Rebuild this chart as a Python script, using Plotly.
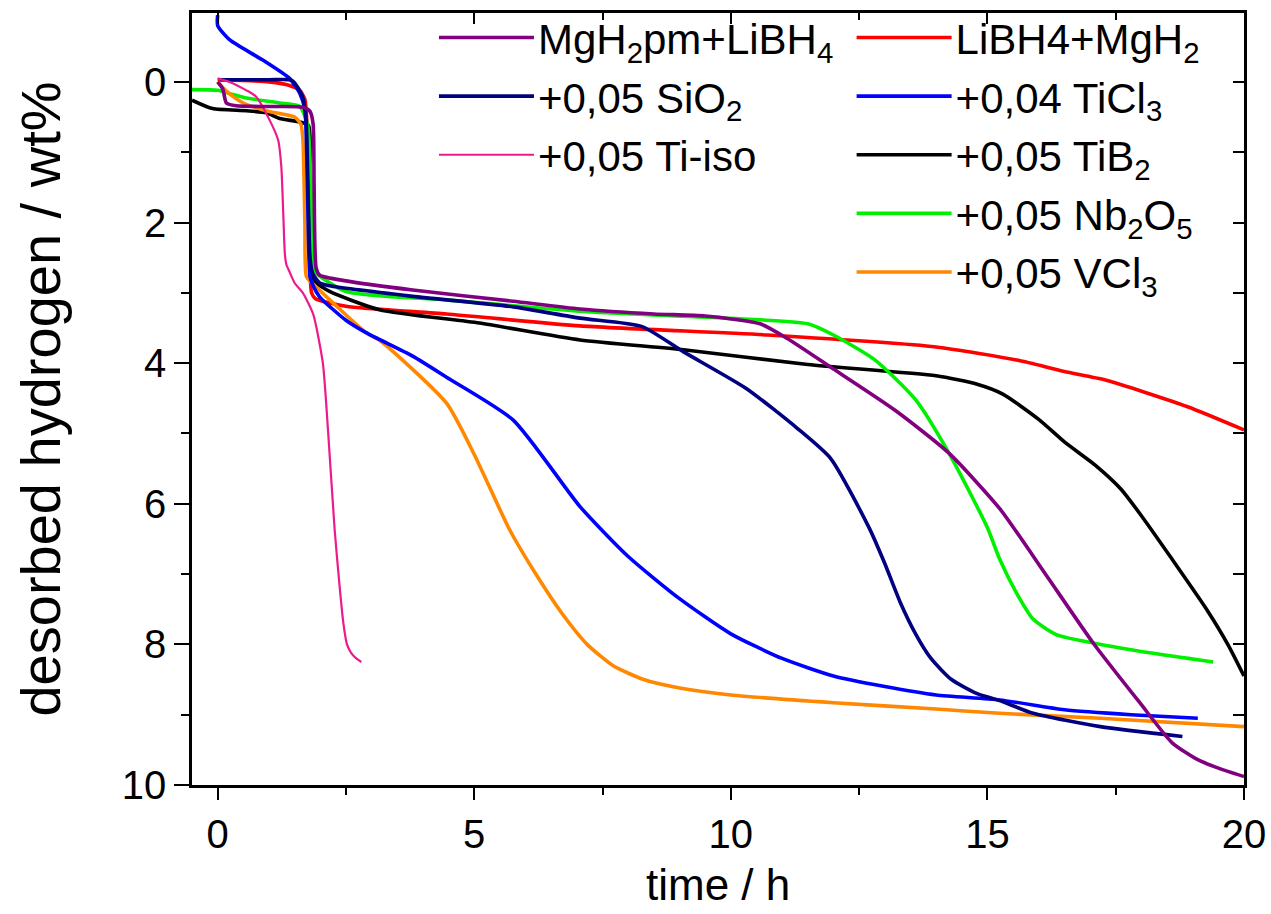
import plotly.graph_objects as go

# ---------------- data (time / h, desorbed hydrogen / wt%) ----------------
purple_x = [0.0, 0.1, 0.17, 0.36, 1.0, 1.66, 1.8, 1.86, 1.88, 1.92, 1.99, 2.5, 3.8, 5.76, 7.06, 8.5, 9.5,
            10.57, 11.1, 11.95, 13.2, 14.25, 15.24, 16.15, 17.06, 17.97, 18.6, 19.1, 19.5, 20.0]
purple_y = [0.0, 0.1, 0.3, 0.34, 0.35, 0.36, 0.42, 0.6, 1.5, 2.65, 2.75, 2.83, 2.96, 3.12, 3.23, 3.3, 3.33,
            3.44, 3.65, 4.06, 4.67, 5.28, 6.07, 7.02, 7.98, 8.83, 9.4, 9.64, 9.76, 9.88]

red_x = [0.0, 0.5, 1.0, 1.4, 1.6, 1.7, 1.74, 1.78, 1.83, 1.9, 2.5, 4.46, 7.06, 10.72, 14.0, 15.6, 16.5,
         17.3, 18.9, 20.0]
red_y = [-0.03, -0.02, 0.0, 0.05, 0.12, 0.25, 0.6, 2.0, 3.0, 3.08, 3.19, 3.3, 3.47, 3.6, 3.77, 3.96, 4.12,
         4.24, 4.62, 4.95]

navy_x = [0.05, 0.3, 1.0, 1.45, 1.65, 1.72, 1.76, 1.8, 1.85, 1.99, 2.18, 3.8, 5.76, 7.06, 8.27, 9.08,
          10.3, 11.3, 11.95, 12.7, 13.0, 13.3, 13.6, 13.9, 14.3, 14.8, 15.24, 15.89, 17.2, 18.8]
navy_y = [-0.03, -0.03, -0.03, -0.02, 0.2, 0.5, 1.5, 2.5, 2.72, 2.86, 2.9, 3.05, 3.2, 3.36, 3.48, 3.84,
          4.36, 4.93, 5.36, 6.35, 6.85, 7.4, 7.85, 8.2, 8.5, 8.7, 8.8, 8.98, 9.17, 9.31]

blue_x = [0.0, 0.0, 0.23, 0.88, 1.4, 1.6, 1.7, 1.75, 1.8, 1.86, 1.99, 2.5, 2.9, 3.8, 4.46, 5.76, 7.06,
          8.0, 9.0, 10.0, 11.0, 12.0, 13.0, 14.0, 15.24, 16.5, 17.8, 19.1]
blue_y = [-0.95, -0.8, -0.6, -0.31, -0.05, 0.16, 0.4, 1.5, 2.77, 2.9, 3.06, 3.39, 3.57, 3.9, 4.2, 4.81,
          6.04, 6.75, 7.35, 7.85, 8.2, 8.45, 8.6, 8.72, 8.79, 8.93, 9.0, 9.05]

pink_x = [0.0, 0.23, 0.56, 0.75, 1.01, 1.18, 1.24, 1.28, 1.31, 1.34, 1.4, 1.5, 1.66, 1.86, 2.05, 2.15,
          2.28, 2.38, 2.45, 2.52, 2.6, 2.7, 2.8]
pink_y = [-0.05, 0.0, 0.12, 0.21, 0.54, 0.83, 1.2, 1.9, 2.45, 2.6, 2.7, 2.86, 3.0, 3.3, 4.0, 4.95,
          6.37, 7.2, 7.7, 8.0, 8.12, 8.2, 8.25]

black_x = [-0.5, -0.1, 0.56, 0.95, 1.21, 1.6, 1.77, 1.8, 1.83, 1.9, 2.18, 3.15, 5.1, 7.06, 9.08, 11.5,
           14.0, 14.8, 15.3, 16.0, 16.5, 17.1, 17.6, 18.0, 18.6, 19.27, 19.7, 20.0]
black_y = [0.26, 0.38, 0.41, 0.44, 0.52, 0.57, 0.62, 1.5, 2.77, 2.85, 2.98, 3.24, 3.43, 3.67, 3.81, 4.02,
           4.18, 4.3, 4.44, 4.8, 5.12, 5.45, 5.79, 6.17, 6.79, 7.5, 8.02, 8.45]

green_x = [-0.5, 0.0, 0.3, 0.56, 1.21, 1.6, 1.75, 1.82, 1.86, 1.9, 2.5, 4.46, 7.2, 9.9, 11.5, 12.0, 12.8,
           13.6, 14.25, 15.0, 15.24, 15.56, 15.89, 16.34, 17.06, 18.16, 19.4]
green_y = [0.11, 0.12, 0.18, 0.23, 0.3, 0.35, 0.6, 1.5, 2.5, 2.7, 2.98, 3.1, 3.27, 3.36, 3.44, 3.6, 3.95,
           4.52, 5.28, 6.34, 6.79, 7.26, 7.64, 7.86, 7.98, 8.12, 8.25]

orange_x = [0.0, 0.2, 0.5, 1.0, 1.5, 1.62, 1.66, 1.7, 1.73, 1.84, 2.9, 3.15, 4.46, 5.0, 5.69, 6.2, 6.7,
            7.2, 7.7, 8.3, 9.0, 10.0, 12.0, 14.0, 15.24, 17.2, 20.0]
orange_y = [0.0, 0.15, 0.3, 0.42, 0.5, 0.6, 0.8, 2.0, 2.77, 2.86, 3.57, 3.67, 4.57, 5.3, 6.37, 7.0, 7.55,
            8.0, 8.3, 8.5, 8.62, 8.72, 8.83, 8.92, 8.98, 9.05, 9.17]

x_ticks = [0, 5, 10, 15, 20]
y_ticks = [0, 2, 4, 6, 8, 10]

# ---------------- series definitions ----------------
# (name, x, y, colour, width, legend, rank) ; drawing order = list order
series = [
    ("LiBH4+MgH<sub>2</sub>", red_x, red_y, "#FF0000", 3.6, "legend2", 1),
    ("+0,05 TiB<sub>2</sub>", black_x, black_y, "#000000", 3.6, "legend2", 3),
    ("+0,05 Nb<sub>2</sub>O<sub>5</sub>", green_x, green_y, "#00F000", 3.6, "legend2", 4),
    ("+0,05 VCl<sub>3</sub>", orange_x, orange_y, "#FF8800", 3.6, "legend2", 5),
    ("+0,04 TiCl<sub>3</sub>", blue_x, blue_y, "#0000FF", 3.6, "legend2", 2),
    ("+0,05 SiO<sub>2</sub>", navy_x, navy_y, "#000080", 3.6, "legend", 2),
    ("+0,05 Ti-iso", pink_x, pink_y, "#EC1A8C", 2.2, "legend", 3),
    ("MgH<sub>2</sub>pm+LiBH<sub>4</sub>", purple_x, purple_y, "#800080", 3.6, "legend", 1),
]

FONT = "Liberation Sans, Arial, sans-serif"

fig = go.Figure()
for name, xs, ys, col, w, leg, rank in series:
    fig.add_trace(go.Scatter(
        x=xs, y=ys, mode="lines", name=name,
        line=dict(color=col, width=w, shape="spline", smoothing=0.6),
        legend=leg, legendrank=rank, legendgroup=name,
    ))

XR = [-0.5, 20]
YR = [10, -0.98]

axis_common = dict(showgrid=False, zeroline=False, linecolor="black", linewidth=2.5,
                   tickcolor="black", tickwidth=2,
                   tickfont=dict(family=FONT, size=40, color="black"))

leg_common = dict(font=dict(family=FONT, size=42, color="black"), bgcolor="rgba(0,0,0,0)",
                  borderwidth=0, itemwidth=94, tracegroupgap=1, yanchor="top",
                  xanchor="left", itemclick=False)

fig.update_layout(
    width=1271, height=914,
    margin=dict(l=192, r=27, t=13, b=129, autoexpand=False),
    paper_bgcolor="white", plot_bgcolor="white",
    showlegend=True,
    xaxis=dict(range=XR, tickvals=x_ticks, ticks="outside", ticklen=12, mirror=True, showline=True,
               minor=dict(ticks="outside", ticklen=7, dtick=2.5, tick0=0, tickcolor="black", tickwidth=2),
               **axis_common),
    yaxis=dict(range=YR, tickvals=y_ticks, ticks="outside", ticklen=15, mirror=True, showline=True,
               minor=dict(ticks="outside", ticklen=8, dtick=1, tick0=0, tickcolor="black", tickwidth=2),
               title=dict(text="desorbed hydrogen / wt%", font=dict(family=FONT, size=56, color="black"),
                          standoff=44),
               **axis_common),
    xaxis2=dict(overlaying="x", side="top", anchor="y", range=XR, tickvals=x_ticks, ticks="inside",
                ticklen=11, tickwidth=2, tickcolor="black", showticklabels=False, showgrid=False,
                zeroline=False, showline=False,
                minor=dict(ticks="inside", ticklen=7, dtick=2.5, tick0=0, tickcolor="black", tickwidth=2)),
    yaxis2=dict(overlaying="y", side="right", anchor="x", range=YR, tickvals=y_ticks, ticks="inside",
                ticklen=11, tickwidth=2, tickcolor="black", showticklabels=False, showgrid=False,
                zeroline=False, showline=False,
                minor=dict(ticks="inside", ticklen=11, dtick=1, tick0=0, tickcolor="black", tickwidth=2)),
    legend=dict(x=0.230, y=1.012, **leg_common),
    legend2=dict(x=0.627, y=1.012, **leg_common),
    annotations=[dict(text="time / h", xref="paper", yref="paper", x=0.5, y=-0.162,
                      xanchor="center", yanchor="bottom", showarrow=False, borderpad=0,
                      font=dict(family=FONT, size=44, color="black"))],
)

# invisible helper so the mirrored tick axes are rendered
fig.add_trace(go.Scatter(x=[None], y=[None], xaxis="x2", yaxis="y2", showlegend=False,
                         hoverinfo="skip"))

post = """
document.body.style.margin = '0';
document.body.style.padding = '0';
var gd = document.getElementById('{plot_id}');
function stretch(){
  gd.querySelectorAll('.legendlines path').forEach(function(p){ p.setAttribute('d','M5,0h95'); });
}
stretch();
gd.on('plotly_afterplot', stretch);
"""
fig.write_html("out.html", post_script=post, config={"displayModeBar": False})
